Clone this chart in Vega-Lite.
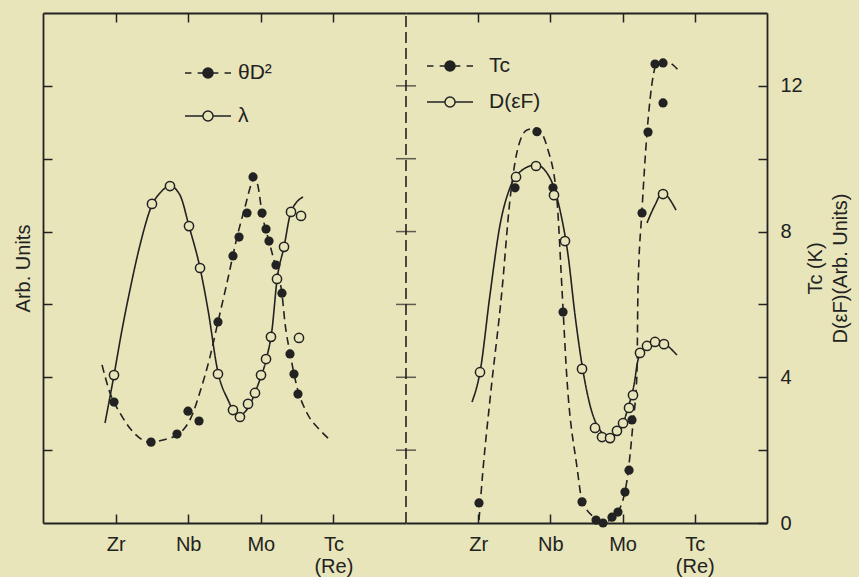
{
  "$schema": "https://vega.github.io/schema/vega-lite/v6.json",
  "background": "#e8e5ba",
  "padding": {"left": 13, "top": 12, "right": 9, "bottom": 1},
  "bounds": "flush",
  "spacing": 0,
  "config": {
    "view": {"stroke": null},
    "font": "Liberation Sans",
    "axis": {"grid": false, "domainColor": "#222", "tickColor": "#222", "labelColor": "#222", "titleColor": "#222", "domainWidth": 1.8, "tickWidth": 1.5, "labelFontSize": 20, "titleFontSize": 20, "titleFontWeight": "normal", "labelFont": "Liberation Sans", "titleFont": "Liberation Sans"},
    "legend": {"labelFont": "Liberation Sans", "labelFontSize": 21, "labelColor": "#222", "padding": 0}
  },
  "resolve": {"scale": {"shape": "independent"}, "legend": {"shape": "independent"}},
  "datasets": {
    "points": [
      {"s": "θD²", "x": 3.978, "y": 3.32}, {"s": "θD²", "x": 4.488, "y": 2.22}, {"s": "θD²", "x": 4.846, "y": 2.44}, {"s": "θD²", "x": 4.997, "y": 3.07}, {"s": "θD²", "x": 5.149, "y": 2.80}, {"s": "θD²", "x": 5.410, "y": 5.52}, {"s": "θD²", "x": 5.617, "y": 7.33}, {"s": "θD²", "x": 5.700, "y": 7.85}, {"s": "θD²", "x": 5.810, "y": 8.51}, {"s": "θD²", "x": 5.893, "y": 9.50}, {"s": "θD²", "x": 6.017, "y": 8.51}, {"s": "θD²", "x": 6.072, "y": 8.07}, {"s": "θD²", "x": 6.113, "y": 7.74}, {"s": "θD²", "x": 6.209, "y": 7.08}, {"s": "θD²", "x": 6.292, "y": 6.31}, {"s": "θD²", "x": 6.402, "y": 4.64}, {"s": "θD²", "x": 6.457, "y": 4.09}, {"s": "θD²", "x": 6.512, "y": 3.54},
      {"s": "λ", "x": 3.978, "y": 4.06}, {"s": "λ", "x": 4.501, "y": 8.76}, {"s": "λ", "x": 4.749, "y": 9.25}, {"s": "λ", "x": 5.011, "y": 8.15}, {"s": "λ", "x": 5.163, "y": 7.00}, {"s": "λ", "x": 5.410, "y": 4.09}, {"s": "λ", "x": 5.617, "y": 3.10}, {"s": "λ", "x": 5.713, "y": 2.91}, {"s": "λ", "x": 5.824, "y": 3.27}, {"s": "λ", "x": 5.920, "y": 3.57}, {"s": "λ", "x": 6.003, "y": 4.06}, {"s": "λ", "x": 6.072, "y": 4.50}, {"s": "λ", "x": 6.140, "y": 5.11}, {"s": "λ", "x": 6.223, "y": 6.70}, {"s": "λ", "x": 6.320, "y": 7.58}, {"s": "λ", "x": 6.416, "y": 8.54}, {"s": "λ", "x": 6.554, "y": 8.43}, {"s": "λ", "x": 6.526, "y": 5.08},
      {"s": "Tc", "x": 4.011, "y": 0.55}, {"s": "Tc", "x": 4.510, "y": 9.20}, {"s": "Tc", "x": 4.814, "y": 10.74}, {"s": "Tc", "x": 5.036, "y": 9.20}, {"s": "Tc", "x": 5.175, "y": 5.79}, {"s": "Tc", "x": 5.438, "y": 0.58}, {"s": "Tc", "x": 5.632, "y": 0.08}, {"s": "Tc", "x": 5.729, "y": 0.0}, {"s": "Tc", "x": 5.853, "y": 0.16}, {"s": "Tc", "x": 5.936, "y": 0.30}, {"s": "Tc", "x": 6.033, "y": 0.85}, {"s": "Tc", "x": 6.089, "y": 1.45}, {"s": "Tc", "x": 6.130, "y": 2.83}, {"s": "Tc", "x": 6.269, "y": 8.51}, {"s": "Tc", "x": 6.352, "y": 10.73}, {"s": "Tc", "x": 6.560, "y": 11.53}, {"s": "Tc", "x": 6.449, "y": 12.60}, {"s": "Tc", "x": 6.560, "y": 12.63},
      {"s": "D(εF)", "x": 4.025, "y": 4.14}, {"s": "D(εF)", "x": 4.524, "y": 9.50}, {"s": "D(εF)", "x": 4.801, "y": 9.80}, {"s": "D(εF)", "x": 5.050, "y": 9.00}, {"s": "D(εF)", "x": 5.202, "y": 7.74}, {"s": "D(εF)", "x": 5.438, "y": 4.23}, {"s": "D(εF)", "x": 5.618, "y": 2.61}, {"s": "D(εF)", "x": 5.715, "y": 2.36}, {"s": "D(εF)", "x": 5.826, "y": 2.33}, {"s": "D(εF)", "x": 5.922, "y": 2.53}, {"s": "D(εF)", "x": 6.006, "y": 2.74}, {"s": "D(εF)", "x": 6.089, "y": 3.16}, {"s": "D(εF)", "x": 6.144, "y": 3.51}, {"s": "D(εF)", "x": 6.241, "y": 4.67}, {"s": "D(εF)", "x": 6.338, "y": 4.86}, {"s": "D(εF)", "x": 6.449, "y": 4.97}, {"s": "D(εF)", "x": 6.573, "y": 4.91}, {"s": "D(εF)", "x": 6.560, "y": 9.03}
    ],
    "curves": [
      {"s": "θD²", "g": "a", "x": 3.813, "y": 4.34}, {"s": "θD²", "g": "a", "x": 3.923, "y": 3.57}, {"s": "θD²", "g": "a", "x": 4.061, "y": 3.02}, {"s": "θD²", "g": "a", "x": 4.240, "y": 2.50}, {"s": "θD²", "g": "a", "x": 4.474, "y": 2.22}, {"s": "θD²", "g": "a", "x": 4.653, "y": 2.28}, {"s": "θD²", "g": "a", "x": 4.887, "y": 2.47}, {"s": "θD²", "g": "a", "x": 5.066, "y": 3.02}, {"s": "θD²", "g": "a", "x": 5.163, "y": 3.60}, {"s": "θD²", "g": "a", "x": 5.300, "y": 4.56}, {"s": "θD²", "g": "a", "x": 5.410, "y": 5.52}, {"s": "θD²", "g": "a", "x": 5.534, "y": 6.59}, {"s": "θD²", "g": "a", "x": 5.686, "y": 7.96}, {"s": "θD²", "g": "a", "x": 5.782, "y": 8.67}, {"s": "θD²", "g": "a", "x": 5.879, "y": 9.36}, {"s": "θD²", "g": "a", "x": 5.920, "y": 9.50}, {"s": "θD²", "g": "a", "x": 5.961, "y": 9.25}, {"s": "θD²", "g": "a", "x": 6.017, "y": 8.51}, {"s": "θD²", "g": "a", "x": 6.127, "y": 7.63}, {"s": "θD²", "g": "a", "x": 6.209, "y": 7.00}, {"s": "θD²", "g": "a", "x": 6.292, "y": 6.29}, {"s": "θD²", "g": "a", "x": 6.333, "y": 5.49}, {"s": "θD²", "g": "a", "x": 6.402, "y": 4.67}, {"s": "θD²", "g": "a", "x": 6.499, "y": 3.73}, {"s": "θD²", "g": "a", "x": 6.636, "y": 3.02}, {"s": "θD²", "g": "a", "x": 6.815, "y": 2.55}, {"s": "θD²", "g": "a", "x": 6.926, "y": 2.33},
      {"s": "λ", "g": "a", "x": 3.854, "y": 2.745}, {"s": "λ", "g": "a", "x": 3.978, "y": 4.06}, {"s": "λ", "g": "a", "x": 4.088, "y": 5.30}, {"s": "λ", "g": "a", "x": 4.198, "y": 6.40}, {"s": "λ", "g": "a", "x": 4.336, "y": 7.63}, {"s": "λ", "g": "a", "x": 4.501, "y": 8.73}, {"s": "λ", "g": "a", "x": 4.612, "y": 9.06}, {"s": "λ", "g": "a", "x": 4.749, "y": 9.25}, {"s": "λ", "g": "a", "x": 4.887, "y": 9.00}, {"s": "λ", "g": "a", "x": 5.011, "y": 8.15}, {"s": "λ", "g": "a", "x": 5.163, "y": 7.00}, {"s": "λ", "g": "a", "x": 5.273, "y": 5.85}, {"s": "λ", "g": "a", "x": 5.410, "y": 4.14}, {"s": "λ", "g": "a", "x": 5.548, "y": 3.38}, {"s": "λ", "g": "a", "x": 5.686, "y": 2.94}, {"s": "λ", "g": "a", "x": 5.824, "y": 3.16}, {"s": "λ", "g": "a", "x": 5.961, "y": 3.79}, {"s": "λ", "g": "a", "x": 6.072, "y": 4.47}, {"s": "λ", "g": "a", "x": 6.154, "y": 5.30}, {"s": "λ", "g": "a", "x": 6.223, "y": 6.67}, {"s": "λ", "g": "a", "x": 6.320, "y": 7.58}, {"s": "λ", "g": "a", "x": 6.416, "y": 8.54}, {"s": "λ", "g": "a", "x": 6.581, "y": 8.95},
      {"s": "Tc", "g": "a", "x": 4.011, "y": 0.08}, {"s": "Tc", "g": "a", "x": 4.066, "y": 1.45}, {"s": "Tc", "g": "a", "x": 4.163, "y": 3.38}, {"s": "Tc", "g": "a", "x": 4.330, "y": 6.40}, {"s": "Tc", "g": "a", "x": 4.440, "y": 8.87}, {"s": "Tc", "g": "a", "x": 4.537, "y": 10.18}, {"s": "Tc", "g": "a", "x": 4.676, "y": 10.79}, {"s": "Tc", "g": "a", "x": 4.801, "y": 10.84}, {"s": "Tc", "g": "a", "x": 4.967, "y": 10.24}, {"s": "Tc", "g": "a", "x": 5.091, "y": 8.87}, {"s": "Tc", "g": "a", "x": 5.161, "y": 6.40}, {"s": "Tc", "g": "a", "x": 5.230, "y": 3.93}, {"s": "Tc", "g": "a", "x": 5.368, "y": 1.54}, {"s": "Tc", "g": "a", "x": 5.438, "y": 0.63}, {"s": "Tc", "g": "a", "x": 5.618, "y": 0.14}, {"s": "Tc", "g": "a", "x": 5.756, "y": 0.03}, {"s": "Tc", "g": "a", "x": 5.922, "y": 0.27}, {"s": "Tc", "g": "a", "x": 6.061, "y": 1.18}, {"s": "Tc", "g": "a", "x": 6.144, "y": 2.74}, {"s": "Tc", "g": "a", "x": 6.199, "y": 4.12}, {"s": "Tc", "g": "a", "x": 6.213, "y": 6.40}, {"s": "Tc", "g": "a", "x": 6.269, "y": 8.59}, {"s": "Tc", "g": "a", "x": 6.338, "y": 10.71}, {"s": "Tc", "g": "a", "x": 6.421, "y": 12.24}, {"s": "Tc", "g": "a", "x": 6.476, "y": 12.63}, {"s": "Tc", "g": "a", "x": 6.615, "y": 12.65}, {"s": "Tc", "g": "a", "x": 6.795, "y": 12.38},
      {"s": "D(εF)", "g": "a", "x": 3.914, "y": 3.32}, {"s": "D(εF)", "g": "a", "x": 4.025, "y": 4.14}, {"s": "D(εF)", "g": "a", "x": 4.163, "y": 6.26}, {"s": "D(εF)", "g": "a", "x": 4.302, "y": 8.18}, {"s": "D(εF)", "g": "a", "x": 4.440, "y": 9.20}, {"s": "D(εF)", "g": "a", "x": 4.579, "y": 9.64}, {"s": "D(εF)", "g": "a", "x": 4.801, "y": 9.83}, {"s": "D(εF)", "g": "a", "x": 4.994, "y": 9.47}, {"s": "D(εF)", "g": "a", "x": 5.133, "y": 8.59}, {"s": "D(εF)", "g": "a", "x": 5.244, "y": 7.36}, {"s": "D(εF)", "g": "a", "x": 5.341, "y": 5.71}, {"s": "D(εF)", "g": "a", "x": 5.438, "y": 4.34}, {"s": "D(εF)", "g": "a", "x": 5.548, "y": 3.24}, {"s": "D(εF)", "g": "a", "x": 5.687, "y": 2.55}, {"s": "D(εF)", "g": "a", "x": 5.825, "y": 2.36}, {"s": "D(εF)", "g": "a", "x": 5.964, "y": 2.55}, {"s": "D(εF)", "g": "a", "x": 6.075, "y": 3.16}, {"s": "D(εF)", "g": "a", "x": 6.158, "y": 3.79}, {"s": "D(εF)", "g": "a", "x": 6.213, "y": 4.47}, {"s": "D(εF)", "g": "a", "x": 6.310, "y": 4.83}, {"s": "D(εF)", "g": "a", "x": 6.449, "y": 5.00}, {"s": "D(εF)", "g": "a", "x": 6.587, "y": 4.91}, {"s": "D(εF)", "g": "a", "x": 6.753, "y": 4.61},
      {"s": "D(εF)", "g": "b", "x": 6.338, "y": 8.24}, {"s": "D(εF)", "g": "b", "x": 6.449, "y": 8.73}, {"s": "D(εF)", "g": "b", "x": 6.560, "y": 9.09}, {"s": "D(εF)", "g": "b", "x": 6.629, "y": 8.95}, {"s": "D(εF)", "g": "b", "x": 6.740, "y": 8.59}
    ],
    "dividerTicks": [{"v": 2}, {"v": 4}, {"v": 6}, {"v": 8}, {"v": 10}, {"v": 12}]
  },
  "hconcat": [
    {
      "width": 363,
      "height": 510,
      "resolve": {"axis": {"x": "independent"}},
      "layer": [
        {
          "data": {"name": "curves"},
          "transform": [{"filter": "datum.s == 'θD²' || datum.s == 'λ'"}],
          "mark": {"type": "line", "interpolate": "monotone", "color": "#222", "strokeWidth": 1.6},
          "encoding": {
            "x": {"field": "x", "type": "quantitative", "scale": {"domain": [3, 8], "nice": false, "zero": false},
                  "axis": {"orient": "bottom", "values": [4, 5, 6, 7], "tickSize": -9, "labelPadding": 20, "title": null, "labelLineHeight": 22, "labelBaseline": "top",
                           "labelExpr": "datum.value == 4 ? 'Zr' : datum.value == 5 ? 'Nb' : datum.value == 6 ? 'Mo' : ['Tc', '(Re)']"}},
            "y": {"field": "y", "type": "quantitative", "scale": {"domain": [0, 14], "nice": false},
                  "axis": {"orient": "left", "values": [2, 4, 6, 8, 10, 12], "labels": false, "tickSize": -9, "title": "Arb. Units", "titlePadding": 9}},
            "detail": {"field": "g"},
            "strokeDash": {"field": "s", "type": "nominal", "scale": {"domain": ["θD²", "λ"], "range": [[8, 5], [1, 0]]}, "legend": null}
          }
        },
        {
          "data": {"values": [{}]},
          "mark": {"type": "rule", "color": "#222", "strokeWidth": 1.6, "strokeDash": [11, 5]},
          "encoding": {
            "x": {"datum": 8, "type": "quantitative", "axis": null},
            "y": {"datum": 0, "type": "quantitative"},
            "y2": {"datum": 14}
          }
        },
        {
          "data": {"name": "dividerTicks"},
          "mark": {"type": "tick", "orient": "horizontal", "color": "#222", "size": 20, "thickness": 1.5},
          "encoding": {
            "x": {"datum": 8, "type": "quantitative", "axis": null},
            "y": {"field": "v", "type": "quantitative"}
          }
        },
        {
          "data": {"name": "points"},
          "transform": [{"filter": "datum.s == 'θD²'"}],
          "mark": {"type": "point", "filled": true, "color": "#222", "size": 85, "opacity": 1},
          "encoding": {
            "x": {"field": "x", "type": "quantitative", "axis": {"orient": "top", "values": [4, 5, 6, 7], "labels": false, "tickSize": -9, "title": null}},
            "y": {"field": "y", "type": "quantitative"}
          }
        },
        {
          "data": {"name": "points"},
          "transform": [{"filter": "datum.s == 'λ'"}],
          "mark": {"type": "point", "filled": false, "fill": "#e8e5ba", "stroke": "#222", "strokeWidth": 1.5, "size": 85, "opacity": 1},
          "encoding": {
            "x": {"field": "x", "type": "quantitative", "axis": null},
            "y": {"field": "y", "type": "quantitative"}
          }
        },
        {
          "data": {"name": "points"},
          "transform": [{"filter": "false"}],
          "mark": {"type": "point", "filled": true, "fill": "#222", "stroke": "#222", "strokeWidth": 1.5},
          "encoding": {
            "x": {"field": "x", "type": "quantitative", "axis": null},
            "y": {"field": "y", "type": "quantitative"},
            "shape": {"field": "s", "type": "nominal",
                      "scale": {"domain": ["θD²", "λ"], "range": ["M-1,0H-0.72M-0.45,0H0.45M0.72,0H1M0.22,0A0.22,0.22,0,1,1,-0.22,0A0.22,0.22,0,1,1,0.22,0Z", "M-1,0H-0.22M0.22,0H1M0.22,0A0.22,0.22,0,1,1,-0.22,0A0.22,0.22,0,1,1,0.22,0ZM0.22,0A0.22,0.22,0,1,0,-0.22,0A0.22,0.22,0,1,0,0.22,0Z"]},
                      "legend": {"orient": "none", "legendX": 141, "legendY": 36, "title": null, "symbolSize": 2116, "symbolOpacity": 1, "symbolStrokeWidth": 1.5, "labelOffset": 6, "rowPadding": 9}}
          }
        }
      ]
    },
    {
      "width": 361,
      "height": 510,
      "resolve": {"axis": {"x": "independent"}},
      "layer": [
        {
          "data": {"name": "curves"},
          "transform": [{"filter": "datum.s == 'Tc' || datum.s == 'D(εF)'"}],
          "mark": {"type": "line", "interpolate": "monotone", "color": "#222", "strokeWidth": 1.6},
          "encoding": {
            "x": {"field": "x", "type": "quantitative", "scale": {"domain": [3, 8], "nice": false, "zero": false},
                  "axis": {"orient": "bottom", "values": [4, 5, 6, 7], "tickSize": -9, "labelPadding": 20, "title": null, "labelLineHeight": 22, "labelBaseline": "top",
                           "labelExpr": "datum.value == 4 ? 'Zr' : datum.value == 5 ? 'Nb' : datum.value == 6 ? 'Mo' : ['Tc', '(Re)']"}},
            "y": {"field": "y", "type": "quantitative", "scale": {"domain": [0, 14], "nice": false},
                  "axis": {"orient": "right", "values": [0, 2, 4, 6, 8, 10, 12], "tickSize": -9, "labelPadding": 22, "labelAlign": "left",
                           "labelExpr": "datum.value % 4 == 0 ? datum.label : ''",
                           "title": ["Tc (K)", "D(εF)(Arb. Units)"], "titleAngle": 270, "titleBaseline": "top", "titlePadding": -22, "titleLineHeight": 25}},
            "detail": {"field": "g"},
            "strokeDash": {"field": "s", "type": "nominal", "scale": {"domain": ["Tc", "D(εF)"], "range": [[8, 5], [1, 0]]}, "legend": null}
          }
        },
        {
          "data": {"name": "points"},
          "transform": [{"filter": "datum.s == 'Tc'"}],
          "mark": {"type": "point", "filled": true, "color": "#222", "size": 85, "opacity": 1},
          "encoding": {
            "x": {"field": "x", "type": "quantitative", "axis": {"orient": "top", "values": [4, 5, 6, 7], "labels": false, "tickSize": -9, "title": null}},
            "y": {"field": "y", "type": "quantitative"}
          }
        },
        {
          "data": {"name": "points"},
          "transform": [{"filter": "datum.s == 'D(εF)'"}],
          "mark": {"type": "point", "filled": false, "fill": "#e8e5ba", "stroke": "#222", "strokeWidth": 1.5, "size": 85, "opacity": 1},
          "encoding": {
            "x": {"field": "x", "type": "quantitative", "axis": null},
            "y": {"field": "y", "type": "quantitative"}
          }
        },
        {
          "data": {"name": "points"},
          "transform": [{"filter": "false"}],
          "mark": {"type": "point", "filled": true, "fill": "#222", "stroke": "#222", "strokeWidth": 1.5},
          "encoding": {
            "x": {"field": "x", "type": "quantitative", "axis": null},
            "y": {"field": "y", "type": "quantitative"},
            "shape": {"field": "s", "type": "nominal",
                      "scale": {"domain": ["Tc", "D(εF)"], "range": ["M-1,0H-0.72M-0.45,0H0.45M0.72,0H1M0.22,0A0.22,0.22,0,1,1,-0.22,0A0.22,0.22,0,1,1,0.22,0Z", "M-1,0H-0.22M0.22,0H1M0.22,0A0.22,0.22,0,1,1,-0.22,0A0.22,0.22,0,1,1,0.22,0ZM0.22,0A0.22,0.22,0,1,0,-0.22,0A0.22,0.22,0,1,0,0.22,0Z"]},
                      "legend": {"orient": "none", "legendX": 20, "legendY": 29, "title": null, "symbolSize": 2116, "symbolOpacity": 1, "symbolStrokeWidth": 1.5, "labelOffset": 15, "rowPadding": 2}}
          }
        }
      ]
    }
  ]
}
